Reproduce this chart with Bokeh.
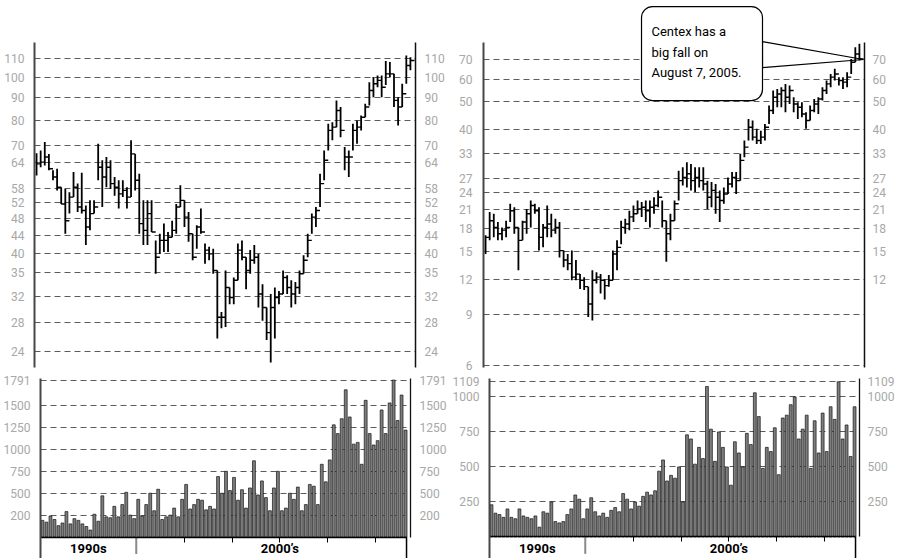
from bokeh.plotting import figure
from bokeh.models import Range1d, LinearAxis, LogAxis, FixedTicker, ColumnDataSource
from bokeh.layouts import column, row
from bokeh.embed import file_html
from bokeh.resources import INLINE
from bokeh.core.properties import value

# ---------------- data (monthly bars, Jan 1998 .. Aug 2005) ----------------
months = [f"{y}-{m:02d}" for y in range(1998, 2006) for m in range(1, 13)][:92]

# left chart: price (high / low / close) and volume
left_high = [67.3, 68.3, 71.4, 67.1, 61.6, 62.1, 56.4, 55.9, 55.0, 61.1,
             57.5, 60.8, 51.3, 52.7, 52.7, 70.7, 64.9, 66.0, 64.9, 59.5,
             58.5, 58.5, 56.4, 72.0, 67.1, 60.5, 52.7, 52.7, 52.7, 42.8,
             44.3, 46.7, 44.7, 47.4, 51.7, 57.0, 52.7, 49.6, 44.3, 46.3,
             50.5, 42.1, 41.4, 41.0, 36.6, 29.5, 36.6, 33.5, 35.3, 42.1,
             42.8, 39.2, 40.7, 41.8, 39.9, 34.1, 30.2, 32.4, 33.5, 32.9,
             36.6, 35.7, 34.8, 34.5, 36.6, 39.6, 44.3, 49.2, 50.9, 60.5,
             68.3, 78.5, 79.1, 88.6, 85.6, 69.5, 68.3, 78.5, 79.8, 81.9,
             87.1, 97.4, 100.0, 100.9, 100.9, 108.7, 108.1, 101.7, 90.1, 96.6,
             111.9, 110.9]
left_low = [60.0, 62.6, 63.2, 61.6, 58.5, 55.5, 51.7, 44.3, 49.2, 53.6,
            49.6, 49.2, 41.8, 45.1, 49.2, 58.5, 50.9, 56.4, 55.9, 54.0,
            50.5, 53.6, 50.5, 53.6, 55.5, 44.3, 41.8, 41.8, 44.7, 36.0,
            39.9, 40.3, 40.3, 43.5, 44.3, 50.9, 45.9, 42.5, 38.6, 41.0,
            44.3, 37.9, 38.6, 36.0, 25.7, 27.1, 27.3, 30.7, 30.7, 34.8,
            38.6, 33.2, 36.0, 37.9, 30.2, 28.2, 25.5, 22.7, 25.7, 30.7,
            32.4, 32.4, 30.2, 30.7, 32.4, 36.0, 39.2, 44.3, 45.9, 50.9,
            58.5, 68.3, 72.0, 77.1, 73.2, 61.6, 59.5, 68.3, 70.7, 75.8,
            81.2, 86.3, 90.1, 94.9, 90.1, 96.0, 100.0, 85.6, 77.8, 85.6,
            96.6, 103.6]
left_close = [63.7, 64.3, 66.0, 62.1, 59.5, 56.4, 51.7, 47.4, 53.6, 56.4,
              50.9, 50.0, 45.9, 49.2, 50.9, 62.6, 59.5, 62.6, 57.5, 56.4,
              54.5, 55.5, 53.6, 67.1, 58.5, 46.7, 45.1, 49.2, 44.7, 39.2,
              42.8, 42.8, 43.5, 45.1, 50.9, 52.7, 48.3, 44.3, 39.2, 45.9,
              44.7, 40.7, 39.9, 36.6, 28.7, 28.7, 33.5, 31.8, 34.8, 40.7,
              39.2, 36.6, 38.6, 39.2, 32.4, 30.2, 26.5, 30.2, 31.8, 32.4,
              35.3, 33.5, 32.4, 33.5, 36.0, 38.6, 42.8, 48.3, 50.0, 57.5,
              64.9, 75.8, 77.1, 84.1, 75.8, 66.0, 66.0, 75.8, 77.1, 81.2,
              85.6, 93.3, 96.6, 98.3, 94.9, 101.7, 101.7, 88.6, 85.6, 91.7,
              106.2, 109.0]
left_volume = [190, 170, 240, 200, 130, 160, 290, 150, 210, 190,
               150, 120, 80, 260, 180, 470, 230, 220, 350, 230,
               370, 510, 250, 210, 430, 240, 370, 500, 300, 545,
               200, 230, 250, 330, 230, 430, 600, 320, 370, 430,
               420, 310, 350, 320, 690, 500, 750, 530, 680, 420,
               540, 330, 560, 870, 480, 640, 450, 300, 560, 750,
               300, 330, 500, 430, 570, 300, 370, 600, 580, 370,
               830, 630, 880, 1280, 1180, 1350, 1680, 1370, 1060, 1080,
               830, 1560, 1180, 1050, 1100, 1450, 1180, 1530, 1791, 1330,
               1620, 1220]

# right chart (Centex): price (high / low / close) and volume
right_high = [17.1, 20.6, 20.3, 19.0, 18.2, 19.2, 22.0, 21.4, 18.2, 19.2,
              21.1, 22.6, 22.0, 21.4, 18.7, 21.7, 20.3, 19.5, 19.0, 15.1,
              14.7, 15.1, 14.0, 12.5, 12.2, 11.3, 12.9, 12.7, 12.5, 12.0,
              12.4, 15.1, 16.4, 19.2, 19.5, 20.8, 21.7, 22.6, 22.3, 22.6,
              22.6, 23.2, 24.5, 22.6, 19.2, 20.3, 22.6, 28.7, 29.5, 30.7,
              30.3, 29.5, 29.5, 29.5, 26.5, 26.2, 25.8, 24.5, 25.1, 27.2,
              28.4, 28.4, 32.9, 36.6, 43.5, 43.0, 40.2, 39.6, 41.8, 48.5,
              54.7, 55.4, 56.2, 57.7, 56.9, 51.8, 49.8, 49.8, 45.9, 48.5,
              51.1, 51.8, 56.2, 59.3, 62.5, 65.1, 60.9, 60.9, 63.4, 70.5,
              77.5, 79.6]
right_low = [14.7, 16.4, 16.8, 16.4, 16.4, 16.8, 19.0, 17.3, 12.9, 16.4,
             17.3, 18.2, 20.3, 15.1, 15.5, 16.8, 16.8, 17.3, 14.3, 13.2,
             12.9, 11.9, 11.9, 11.1, 11.0, 8.85, 8.61, 11.6, 10.7, 10.2,
             11.3, 11.9, 12.9, 15.9, 17.3, 17.8, 19.0, 20.3, 19.8, 19.0,
             18.2, 20.3, 21.4, 18.2, 13.8, 16.4, 19.2, 22.6, 25.5, 25.1,
             24.5, 24.2, 25.1, 24.5, 21.1, 21.4, 20.3, 19.0, 22.0, 23.8,
             25.1, 23.8, 26.5, 32.0, 36.6, 36.6, 35.6, 35.6, 36.6, 41.8,
             45.3, 47.8, 47.8, 45.9, 49.1, 45.9, 43.5, 44.1, 40.2, 43.0,
             45.9, 45.3, 50.5, 53.2, 56.2, 59.3, 56.9, 55.4, 56.2, 62.5,
             68.7, 69.6]
right_close = [16.8, 19.2, 18.2, 17.3, 17.8, 18.2, 20.8, 18.2, 16.4, 19.0,
               20.3, 21.7, 20.8, 16.8, 18.2, 18.7, 17.8, 18.2, 15.1, 14.0,
               13.6, 12.2, 12.5, 11.9, 11.3, 9.83, 11.9, 12.2, 11.9, 11.4,
               11.9, 14.7, 15.5, 18.2, 18.7, 19.8, 20.3, 21.1, 21.4, 20.8,
               21.4, 21.7, 23.2, 19.2, 17.3, 19.2, 22.0, 26.5, 27.2, 28.0,
               26.5, 27.2, 26.5, 25.8, 23.2, 24.5, 23.2, 22.6, 23.8, 25.8,
               27.2, 26.5, 31.2, 34.7, 40.7, 37.6, 36.6, 37.6, 40.7, 46.6,
               51.8, 53.2, 54.7, 51.8, 54.7, 49.1, 47.8, 45.3, 43.0, 46.6,
               49.1, 51.1, 54.7, 57.7, 60.9, 62.5, 59.3, 58.5, 60.9, 68.7,
               73.4, 70.5]
right_volume = [230, 170, 160, 140, 200, 140, 130, 200, 150, 140,
                130, 150, 70, 180, 170, 250, 110, 100, 110, 160,
                200, 300, 270, 130, 200, 280, 180, 150, 170, 140,
                190, 210, 180, 310, 270, 200, 250, 220, 290, 320,
                300, 330, 470, 550, 400, 440, 420, 500, 250, 730,
                700, 520, 640, 560, 1075, 770, 540, 750, 640, 500,
                370, 680, 600, 500, 740, 660, 1030, 860, 490, 640,
                610, 780, 445, 850, 870, 945, 1000, 700, 770, 870,
                490, 830, 600, 885, 610, 930, 840, 1109, 700, 800,
                575, 930]

# tick values and their printed labels
left_price_ticks = [24, 28, 32, 36.3, 40, 44, 48, 52, 56.1, 64, 70, 80, 90, 100, 110]
left_price_labels = ["24", "28", "32", "35", "40", "44", "48", "52", "58", "64", "70", "80", "90", "100", "110"]
right_price_ticks = [6, 9, 12, 15, 18, 21, 24, 27, 33, 40, 50, 60, 70]
right_price_labels = ["6", "9", "12", "15", "18", "21", "24", "27", "33", "40", "50", "60", "70"]
right_price_ticks_r = [12, 15, 18, 21, 24, 27, 33, 40, 50, 60, 70]
right_price_labels_r = ["12", "15", "18", "21", "24", "27", "33", "40", "50", "60", "70"]
left_vol_ticks = [250, 500, 750, 1000, 1250, 1500, 1791]
left_vol_labels = ["200", "500", "750", "1000", "1250", "1500", "1791"]
right_vol_ticks = [250, 500, 750, 1000, 1109]
right_vol_labels = ["250", "500", "750", "1000", "1109"]
period_ticks = [1999, 2003]
period_labels = ["1990s", "2000\u2019s"]
year_ticks = [2001, 2002, 2003, 2004, 2005]
era_start = 1998.0
era_split = 2000.0

callout_lines = ["Centex has a", "big fall on", "August 7, 2005."]

# ---------------- styling ----------------
FONT = "Roboto"
GRID = "#5c5c5c"
LBL = "#a8a8a8"
x = [int(s[:4]) + (int(s[5:]) - 0.5) / 12 for s in months]
X_LAST = x[-1] + 0.02
X_END = 2005.728
STEP = 1 / 12


def style_yaxis(ax, ticks, labels, standoff, color, width, bounds=None):
    ax.ticker = FixedTicker(ticks=ticks)
    ax.major_label_overrides = dict(zip(ticks, labels))
    ax.major_tick_line_color = None
    ax.minor_tick_line_color = None
    ax.major_label_text_font = FONT
    ax.major_label_text_font_size = "12px"
    ax.major_label_text_color = LBL
    ax.major_label_standoff = standoff
    ax.axis_line_color = color
    ax.axis_line_width = width
    if bounds is not None:
        ax.bounds = bounds


def price_fig(width, lb, rb, yr, lt, ll, rt, rl, ls, rs, bounds):
    p = figure(width=width, height=373, x_range=Range1d(era_start, X_END), y_range=Range1d(*yr),
               y_axis_type="log", x_axis_location=None, output_backend="svg",
               toolbar_location=None, min_border_left=lb, min_border_right=rb,
               min_border_top=0, min_border_bottom=6)
    p.outline_line_color = None
    p.xgrid.visible = False
    left = p.yaxis[0]
    style_yaxis(left, lt, ll, ls, "#474747", 2, bounds)
    right = LogAxis()
    style_yaxis(right, rt, rl, rs, "#111111", 1.5, bounds)
    p.add_layout(right, "right")
    p.ygrid.ticker = left.ticker
    p.ygrid.grid_line_color = GRID
    p.ygrid.grid_line_dash = "6 4"
    p.ygrid.grid_line_width = 1
    return p


def draw_bars(p, src):
    p.segment(x0="x", y0="low", x1="x", y1="high", source=src, line_color="black", line_width=1.8)
    p.segment(x0="x", y0="close", x1="xc", y1="close", source=src, line_color="black", line_width=1.4)


def vol_fig(width, lb, rb, src, yr, ticks, labels, ls, rs, mid_neg):
    p = figure(width=width, height=185, x_range=Range1d(era_start, X_END), y_range=Range1d(*yr),
               output_backend="svg", toolbar_location=None, min_border_left=lb,
               min_border_right=rb, min_border_top=5, min_border_bottom=0)
    p.outline_line_color = None
    p.xgrid.visible = False
    left = p.yaxis[0]
    style_yaxis(left, ticks, labels, ls, "#474747", 2, (yr[0], yr[1]))
    right = LinearAxis()
    style_yaxis(right, ticks, labels, rs, "#111111", 1.3, (0, yr[1]))
    p.add_layout(right, "right")
    p.ygrid.ticker = left.ticker
    p.ygrid.grid_line_color = GRID
    p.ygrid.grid_line_dash = "6 4"
    xa = p.xaxis[0]
    xa.fixed_location = 0
    xa.ticker = FixedTicker(ticks=period_ticks, minor_ticks=year_ticks)
    xa.major_label_overrides = dict(zip(period_ticks, period_labels))
    xa.major_tick_out = 0
    xa.major_tick_in = 0
    xa.major_tick_line_color = None
    xa.minor_tick_out = 5
    xa.minor_tick_in = 0
    xa.minor_tick_line_color = "black"
    xa.axis_line_color = "black"
    xa.axis_line_width = 1.5
    xa.bounds = (era_start, X_LAST)
    xa.major_label_text_font = FONT
    xa.major_label_text_font_size = "13px"
    xa.major_label_text_font_style = "bold"
    xa.major_label_text_color = "black"
    xa.major_label_standoff = -1
    p.vbar(x="x", top="vol", width=0.72 / 12, bottom=0, source=src,
           fill_color="#7d7d7d", line_color="#161616", line_width=0.7)
    # long separators below the time axis
    p.segment(x0=[era_split, X_LAST], y0=[0, 0], x1=[era_split, X_LAST], y1=[mid_neg, yr[0]],
              line_color=["#8a8a8a", "black"], line_width=[2, 1.5])
    return p


lsrc = ColumnDataSource(dict(x=x, xc=[v + STEP for v in x], high=left_high,
                             low=left_low, close=left_close, vol=left_volume))
rsrc = ColumnDataSource(dict(x=x, xc=[v + STEP for v in x], high=right_high,
                             low=right_low, close=right_close, vol=right_volume))

# left price
lp = price_fig(449, 34, 34, (22.11, 148.9),
               left_price_ticks, left_price_labels, left_price_ticks, left_price_labels, 4, 3,
               (22.11, 119.7))
draw_bars(lp, lsrc)

# right price with the call-out
rp = price_fig(448, 34, 33, (5.90, 112.8),
               right_price_ticks, right_price_labels, right_price_ticks_r, right_price_labels_r,
               5, 2, (5.90, 80.4))
rp.patch(x=[2003.659, 2005.708, 2003.659], y=[81.1, 70.2, 65.8], fill_color="white",
         line_color="black", line_width=1.2)
draw_bars(rp, rsrc)
rp.quad(left=[2001.205], right=[2003.659], top=[107.4], bottom=[50.47], fill_color="white",
        line_color="black", line_width=1.2, border_radius=11)
rp.text(x=[2001.408] * 3, y=[87.9, 74.3, 63.2], text=callout_lines, text_font=value(FONT),
        text_font_size="13px", text_baseline="middle", text_align="left", text_color="black")

lv = vol_fig(449, 34, 34, lsrc, (-245, 1809), left_vol_ticks, left_vol_labels, 4, 3, -194)
rv = vol_fig(448, 34, 33, rsrc, (-154, 1132), right_vol_ticks, right_vol_labels, 4, 2, -121)

layout = column(row(lp, rp), row(lv, rv))
open("out.html", "w").write(file_html(layout, INLINE))
